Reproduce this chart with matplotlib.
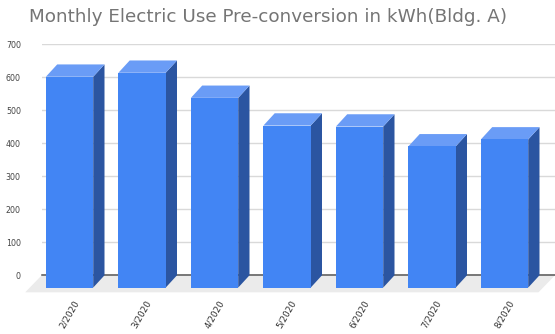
import matplotlib
matplotlib.use("Agg")
import matplotlib.pyplot as plt
from matplotlib.patches import Polygon
from matplotlib.transforms import ScaledTranslation

months = ["2/2020", "3/2020", "4/2020", "5/2020", "6/2020", "7/2020", "8/2020"]
kwh = [639, 651, 575, 491, 488, 428, 449]
y_ticks = [0, 100, 200, 300, 400, 500, 600, 700]

FRONT = "#4285f4"
TOP = "#6a9cf6"
SIDE = "#2b55a1"

W, H = 555, 334
fig = plt.figure(figsize=(W / 100, H / 100), dpi=100)
ax_left, ax_bottom = 41.7, 58.7
ax_w, ax_h = W - ax_left, 231.0
ax = fig.add_axes([ax_left / W, ax_bottom / H, ax_w / W, ax_h / H])
xmin, xmax = -0.54, 6.54
ax.set_xlim(xmin, xmax)
ax.set_ylim(0, 700)

# pixel -> data unit conversions for the fake 3d depth
ux = ax_w / (xmax - xmin)
uy = ax_h / 700
dx, dy = 11.3 / ux, 12.3 / uy
fdx, fdy = 16.5 / ux, 17.0 / uy
bw = 47.3 / ux

# floor
floor = Polygon([(xmin, 0), (xmax, 0), (xmax - fdx, -fdy), (xmin - fdx, -fdy)],
                closed=True, facecolor="#ebebeb", edgecolor="none",
                zorder=0.6, clip_on=False)
ax.add_patch(floor)

ax.set_yticks(y_ticks)
ax.yaxis.grid(True, color="#d9d9d9", lw=1.0)
ax.set_axisbelow(True)
ax.axhline(0, color="#555555", lw=1.1, zorder=0.8, clip_on=False)
ax.tick_params(axis="y", length=0, pad=15, labelsize=5.7, labelcolor="#444444")
ax.tick_params(axis="x", length=0, labelbottom=False)
ax.set_xticks([])
for s in ax.spines.values():
    s.set_visible(False)

for i, v in enumerate(kwh):
    xl, xr = i - bw / 2, i + bw / 2
    front = [(xl - dx, -dy), (xr - dx, -dy), (xr - dx, v - dy), (xl - dx, v - dy)]
    side = [(xr - dx, -dy), (xr, 0), (xr, v), (xr - dx, v - dy)]
    top = [(xl - dx, v - dy), (xl, v), (xr, v), (xr - dx, v - dy)]
    for pts, c in ((side, SIDE), (top, TOP), (front, FRONT)):
        ax.add_patch(Polygon(pts, closed=True, facecolor=c, edgecolor="none",
                             zorder=2, clip_on=False))

offset = ax.transData + ScaledTranslation(-0.078, -0.23, fig.dpi_scale_trans)
for i, m in enumerate(months):
    ax.text(i, 0, m, transform=offset, rotation=60, ha="right", va="top",
            rotation_mode="anchor", fontsize=6.3, color="#333333")

fig.text(268.5 / W, 1 - 17 / H, "Monthly Electric Use Pre-conversion in kWh(Bldg. A)",
         ha="center", va="center", fontsize=13.2, color="#757575")

fig.savefig("out.png", dpi=100, facecolor="white")
